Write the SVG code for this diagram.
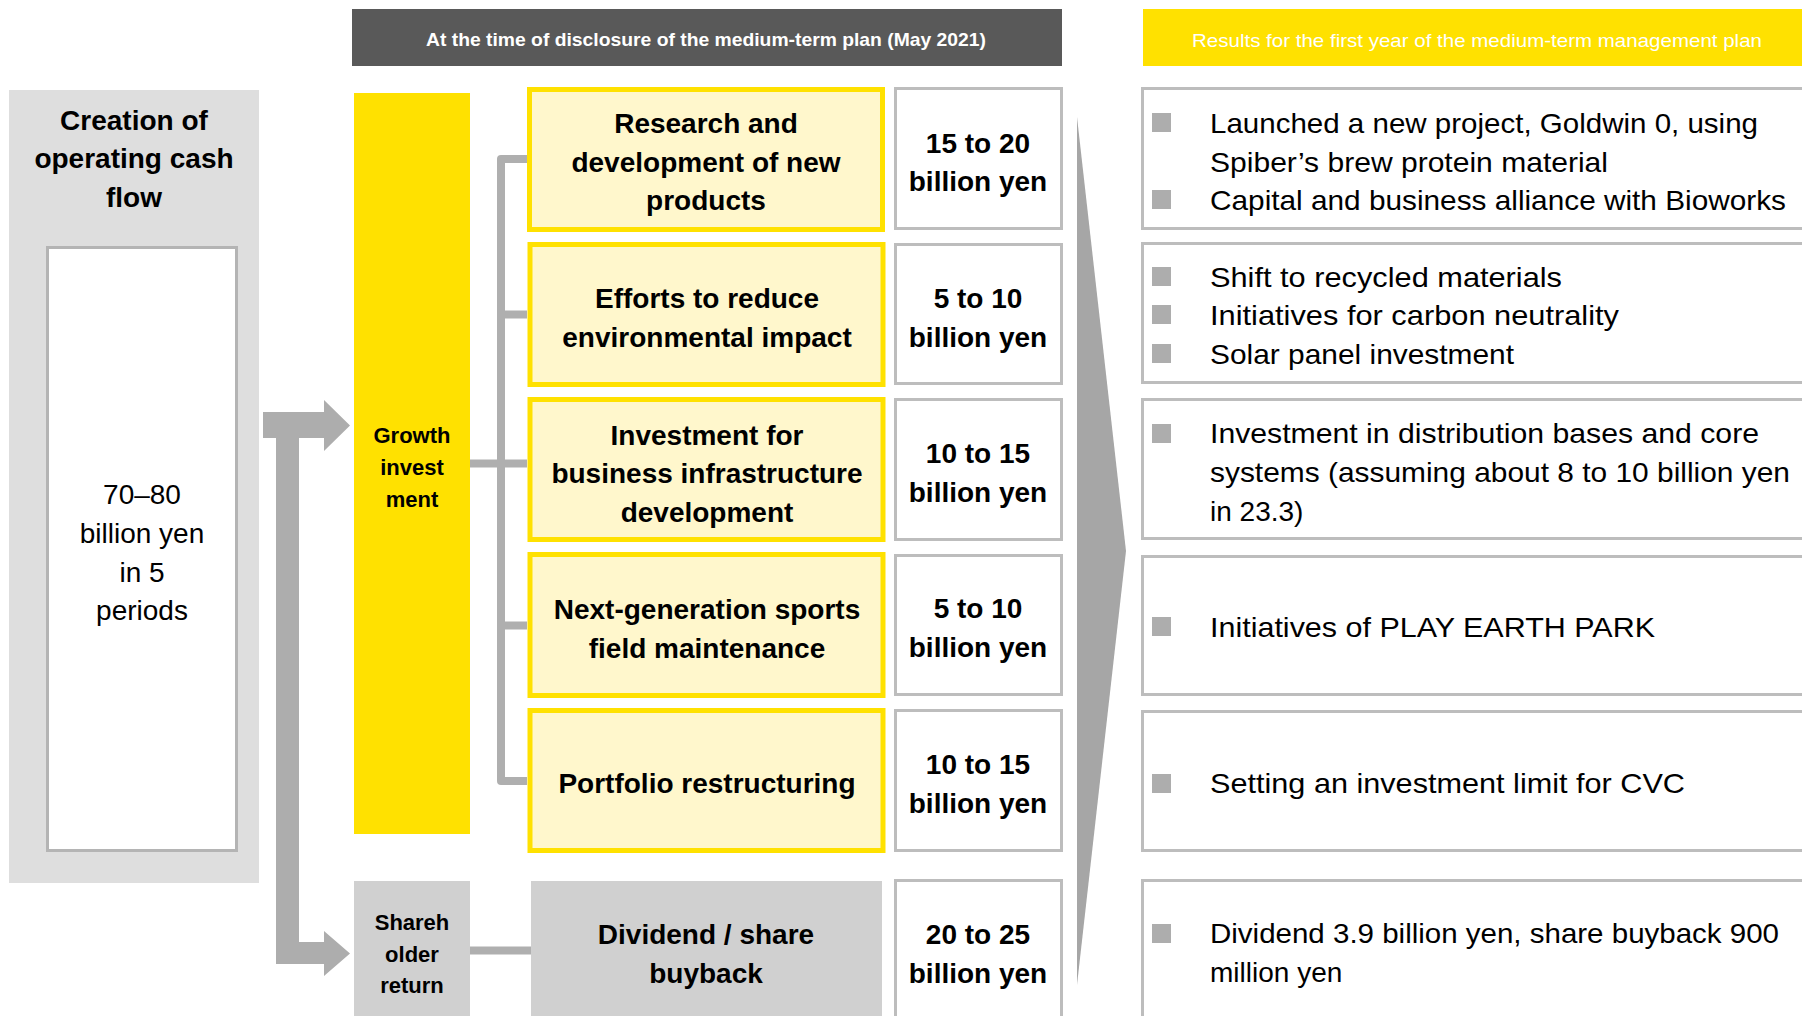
<svg xmlns="http://www.w3.org/2000/svg" width="1802" height="1016" viewBox="0 0 1802 1016">
  <style>
    text { font-family: "Liberation Sans", Arial, sans-serif; fill: #000; }
    .b { font-weight: bold; }
    .c { text-anchor: middle; }
    .t28 { font-size: 28px; }
    .t22 { font-size: 22px; font-weight: bold; }
    .hdr { font-size: 19px; fill: #fff; }
    .plan { fill: #FFF7CC; stroke: #FFE100; stroke-width: 5; }
    .amt { fill: #fff; stroke: #BDBDBD; stroke-width: 3; }
    .res { fill: #fff; stroke: #BDBDBD; stroke-width: 3; }
    .bul { fill: #ADADAD; }
    .conn { fill: none; stroke: #AFAFAF; stroke-width: 8; stroke-linejoin: round; }
  </style>

  <rect width="1802" height="1016" fill="#fff"/>

  <!-- column headers -->
  <g id="header-plan">
    <rect x="352" y="9" width="710" height="57" fill="#595959"/>
    <text class="hdr b c" x="706" y="46" textLength="560" lengthAdjust="spacingAndGlyphs">At the time of disclosure of the medium-term plan (May 2021)</text>
  </g>
  <g id="header-results">
    <rect x="1143" y="9" width="700" height="57" fill="#FFE100"/>
    <text class="hdr c" x="1477" y="47" textLength="570" lengthAdjust="spacingAndGlyphs">Results for the first year of the medium-term management plan</text>
  </g>

  <!-- operating cash flow -->
  <g id="cash-flow">
    <rect x="9" y="90" width="250" height="793" fill="#DEDEDE"/>
    <text class="t28 b c" x="134" y="130">Creation of</text>
    <text class="t28 b c" x="134" y="168">operating cash</text>
    <text class="t28 b c" x="134" y="207">flow</text>
    <rect x="47.5" y="247.5" width="189" height="603" fill="#fff" stroke="#B4B4B4" stroke-width="3"/>
    <text class="t28 c" x="142" y="504">70–80</text>
    <text class="t28 c" x="142" y="543">billion yen</text>
    <text class="t28 c" x="142" y="582">in 5</text>
    <text class="t28 c" x="142" y="620">periods</text>
  </g>

  <!-- allocation categories -->
  <g id="growth-investment">
    <rect x="354" y="93" width="116" height="741" fill="#FFE100"/>
    <text class="t22 c" x="412" y="443">Growth</text>
    <text class="t22 c" x="412" y="475">invest</text>
    <text class="t22 c" x="412" y="507">ment</text>
  </g>
  <g id="shareholder-return">
    <rect x="354" y="881" width="116" height="140" fill="#D0D0D0"/>
    <text class="t22 c" x="412" y="930">Shareh</text>
    <text class="t22 c" x="412" y="962">older</text>
    <text class="t22 c" x="412" y="993">return</text>
  </g>

  <!-- connectors -->
  <g id="connectors">
    <path fill="#ADADAD" d="M263,412 H324 V400 L350,425.5 L324,451 V438 H299 V942 H324 V931 L350,953.5 L324,976 V964 H276 V438 H263 Z"/>
    <path class="conn" d="M527,159 H501 V781 H527 M501,314.5 H527 M470,463.5 H527 M501,625.5 H527"/>
    <path class="conn" stroke-width="7" d="M470,950.5 H531"/>
    <polygon fill="#A6A6A6" points="1077,117 1126,551 1077,985"/>
  </g>

  <!-- planned investment items -->
  <g id="item-rnd">
    <rect class="plan" x="529.5" y="89.5" width="353" height="140"/>
    <text class="t28 b c" x="706" y="133">Research and</text>
    <text class="t28 b c" x="706" y="172">development of new</text>
    <text class="t28 b c" x="706" y="210">products</text>
  </g>
  <g id="item-environment">
    <rect class="plan" x="530" y="244.5" width="353" height="140"/>
    <text class="t28 b c" x="707" y="308">Efforts to reduce</text>
    <text class="t28 b c" x="707" y="347">environmental impact</text>
  </g>
  <g id="item-infrastructure">
    <rect class="plan" x="530" y="399.5" width="353" height="140"/>
    <text class="t28 b c" x="707" y="445">Investment for</text>
    <text class="t28 b c" x="707" y="483">business infrastructure</text>
    <text class="t28 b c" x="707" y="522">development</text>
  </g>
  <g id="item-sports-field">
    <rect class="plan" x="530" y="554.5" width="353" height="141"/>
    <text class="t28 b c" x="707" y="619">Next-generation sports</text>
    <text class="t28 b c" x="707" y="658">field maintenance</text>
  </g>
  <g id="item-portfolio">
    <rect class="plan" x="530" y="710.5" width="353" height="140"/>
    <text class="t28 b c" x="707" y="793">Portfolio restructuring</text>
  </g>
  <g id="item-dividend">
    <rect x="531" y="881" width="351" height="140" fill="#D0D0D0"/>
    <text class="t28 b c" x="706" y="944">Dividend / share</text>
    <text class="t28 b c" x="706" y="983">buyback</text>
  </g>

  <!-- planned amounts -->
  <g id="amount-rnd">
    <rect class="amt" x="895.5" y="88.5" width="166" height="140"/>
    <text class="t28 b c" x="978" y="153">15 to 20</text>
    <text class="t28 b c" x="978" y="191">billion yen</text>
  </g>
  <g id="amount-environment">
    <rect class="amt" x="895.5" y="244.5" width="166" height="139"/>
    <text class="t28 b c" x="978" y="308">5 to 10</text>
    <text class="t28 b c" x="978" y="347">billion yen</text>
  </g>
  <g id="amount-infrastructure">
    <rect class="amt" x="895.5" y="399.5" width="166" height="140"/>
    <text class="t28 b c" x="978" y="463">10 to 15</text>
    <text class="t28 b c" x="978" y="502">billion yen</text>
  </g>
  <g id="amount-sports-field">
    <rect class="amt" x="895.5" y="555.5" width="166" height="139"/>
    <text class="t28 b c" x="978" y="618">5 to 10</text>
    <text class="t28 b c" x="978" y="657">billion yen</text>
  </g>
  <g id="amount-portfolio">
    <rect class="amt" x="895.5" y="710.5" width="166" height="140"/>
    <text class="t28 b c" x="978" y="774">10 to 15</text>
    <text class="t28 b c" x="978" y="813">billion yen</text>
  </g>
  <g id="amount-dividend">
    <rect class="amt" x="895.5" y="880.5" width="166" height="160"/>
    <text class="t28 b c" x="978" y="944">20 to 25</text>
    <text class="t28 b c" x="978" y="983">billion yen</text>
  </g>

  <!-- first-year results -->
  <g id="result-rnd">
    <rect class="res" x="1142.5" y="88.5" width="700" height="140"/>
    <rect class="bul" x="1152" y="113" width="19" height="19"/>
    <text class="t28" x="1210" y="133" textLength="548" lengthAdjust="spacingAndGlyphs">Launched a new project, Goldwin 0, using</text>
    <text class="t28" x="1210" y="172" textLength="398" lengthAdjust="spacingAndGlyphs">Spiber’s brew protein material</text>
    <rect class="bul" x="1152" y="190" width="19" height="19"/>
    <text class="t28" x="1210" y="210" textLength="576" lengthAdjust="spacingAndGlyphs">Capital and business alliance with Bioworks</text>
  </g>
  <g id="result-environment">
    <rect class="res" x="1142.5" y="243.5" width="700" height="139"/>
    <rect class="bul" x="1152" y="267" width="19" height="19"/>
    <text class="t28" x="1210" y="287" textLength="352" lengthAdjust="spacingAndGlyphs">Shift to recycled materials</text>
    <rect class="bul" x="1152" y="305" width="19" height="19"/>
    <text class="t28" x="1210" y="325" textLength="409" lengthAdjust="spacingAndGlyphs">Initiatives for carbon neutrality</text>
    <rect class="bul" x="1152" y="344" width="19" height="19"/>
    <text class="t28" x="1210" y="364" textLength="304" lengthAdjust="spacingAndGlyphs">Solar panel investment</text>
  </g>
  <g id="result-infrastructure">
    <rect class="res" x="1142.5" y="399.5" width="700" height="139"/>
    <rect class="bul" x="1152" y="424" width="19" height="19"/>
    <text class="t28" x="1210" y="443" textLength="549" lengthAdjust="spacingAndGlyphs">Investment in distribution bases and core</text>
    <text class="t28" x="1210" y="482" textLength="580" lengthAdjust="spacingAndGlyphs">systems (assuming about 8 to 10 billion yen</text>
    <text class="t28" x="1210" y="521">in 23.3)</text>
  </g>
  <g id="result-sports-field">
    <rect class="res" x="1142.5" y="556.5" width="700" height="138"/>
    <rect class="bul" x="1152" y="617" width="19" height="19"/>
    <text class="t28" x="1210" y="637" textLength="445" lengthAdjust="spacingAndGlyphs">Initiatives of PLAY EARTH PARK</text>
  </g>
  <g id="result-portfolio">
    <rect class="res" x="1142.5" y="711.5" width="700" height="139"/>
    <rect class="bul" x="1152" y="774" width="19" height="19"/>
    <text class="t28" x="1210" y="793" textLength="475" lengthAdjust="spacingAndGlyphs">Setting an investment limit for CVC</text>
  </g>
  <g id="result-dividend">
    <rect class="res" x="1142.5" y="880.5" width="700" height="160"/>
    <rect class="bul" x="1152" y="924" width="19" height="19"/>
    <text class="t28" x="1210" y="943" textLength="569" lengthAdjust="spacingAndGlyphs">Dividend 3.9 billion yen, share buyback 900</text>
    <text class="t28" x="1210" y="982">million yen</text>
  </g>
</svg>
